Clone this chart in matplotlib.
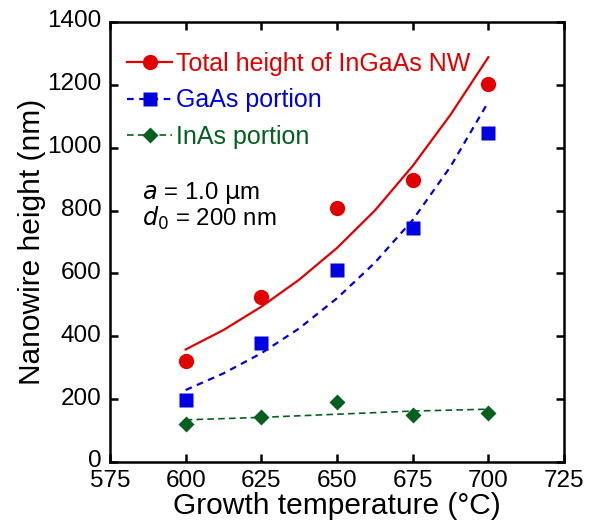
import matplotlib
matplotlib.use("Agg")
import matplotlib.pyplot as plt
import matplotlib.transforms as mtransforms
from matplotlib.lines import Line2D

plt.rcParams['font.family'] = ['Liberation Sans', 'DejaVu Sans']

# measured points
temp = [600, 625, 650, 675, 700]
total_h = [320, 524, 807, 897, 1203]
gaas_h = [197, 380, 611, 744, 1046]
inas_h = [120, 142, 191, 150, 155]

# fitted curves
fit_t = [600, 612.5, 625, 637.5, 650, 662.5, 675, 687.5, 700]
fit_total = [358, 420, 494, 580, 681, 800, 942, 1105, 1288]
fit_gaas = [229, 282, 346, 425, 521, 634, 770, 940, 1146]
fit_inas = [134, 138, 142, 147, 152, 157, 162, 165, 168]

red = '#e00000'
blue = '#0000e0'
green = '#056020'

fig = plt.figure(figsize=(5.9, 5.26), dpi=100)
ax = fig.add_axes([0.1864, 0.1217, 0.7696, 0.8365])

ax.plot(fit_t, fit_total, color=red, lw=1.6)
ax.plot(fit_t, fit_gaas, color=blue, lw=1.6, ls=(0, (3, 2.5)))
ax.plot(fit_t, fit_inas, color=green, lw=1.2, ls=(0, (4, 2.5)))

ax.plot(temp, total_h, 'o', color=red, ms=11, mec='none')
ax.plot(temp, gaas_h, 's', color=blue, ms=9.5, mec='none')
ax.plot(temp, inas_h, 'D', color=green, ms=8, mec='none')

ax.set_xlim(575, 725)
ax.set_ylim(0, 1400)
ax.set_xticks(range(575, 726, 25))
ax.set_yticks(range(0, 1401, 200))
ax.tick_params(direction='in', top=True, right=True, length=6, width=1.8,
               labelsize=17.5, pad=6)
for s in ax.spines.values():
    s.set_linewidth(1.8)

# y tick labels sit a little above their ticks in the original
shift = mtransforms.ScaledTranslation(0, 3 / 100, fig.dpi_scale_trans)
for lbl in ax.get_yticklabels():
    lbl.set_transform(lbl.get_transform() + shift)

ax.set_xlabel('Growth temperature (°C)', fontsize=21.5, labelpad=0)
ax.set_ylabel('Nanowire height (nm)', fontsize=21.5, labelpad=1)

handles = [
    Line2D([], [], color=red, lw=1.6, marker='o', ms=11, mec='none'),
    Line2D([], [], color=blue, lw=1.6, ls=(0, (3, 2.5)), marker='s', ms=9.5, mec='none'),
    Line2D([], [], color=green, lw=1.2, ls=(0, (4, 2.5)), marker='D', ms=8, mec='none'),
]
labels = ['Total height of InGaAs NW', 'GaAs portion', 'InAs portion']
leg = ax.legend(handles, labels, loc='upper left', bbox_to_anchor=(0.0, 0.972),
                frameon=False, fontsize=18, handlelength=1.8, handletextpad=0.15,
                labelspacing=0.5, borderaxespad=0.3)
for t, c in zip(leg.get_texts(), [red, blue, green]):
    t.set_color(c)

ax.text(0.07, 0.612, r'$a$ = 1.0 $\mathrm{\mu}$m', transform=ax.transAxes,
        fontsize=17.3, va='center')
ax.text(0.07, 0.553, r'$d_0$ = 200 nm', transform=ax.transAxes,
        fontsize=17.3, va='center')

fig.savefig('out.png', dpi=100)
